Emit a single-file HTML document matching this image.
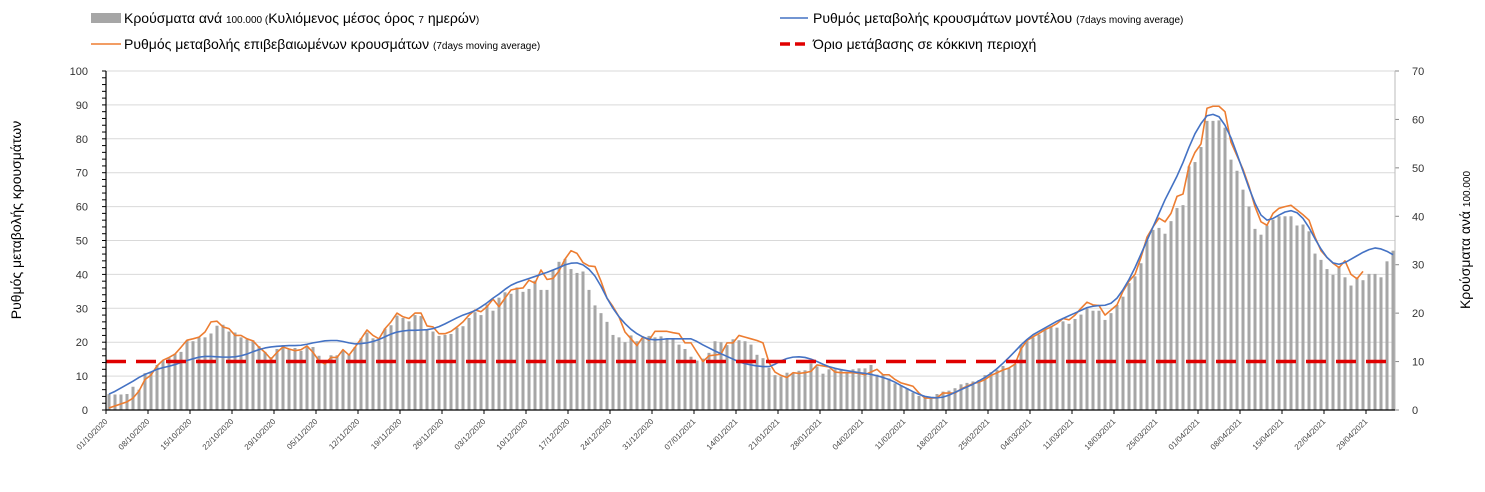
<!DOCTYPE html>
<html><head><meta charset="utf-8">
<style>
body{margin:0;background:#fff;}
svg{display:block;font-family:"Liberation Sans","DejaVu Sans",sans-serif;}
</style></head>
<body>
<svg id="chart" width="1485" height="492" viewBox="0 0 1485 492">
<g id="legend">
  <g>
    <rect x="91" y="13" width="30" height="10" fill="#a6a6a6"/>
    <text x="124" y="23" font-size="14" fill="#000">Κρούσματα ανά <tspan font-size="10">100.000 (</tspan>Κυλιόμενος μέσος όρος <tspan font-size="10">7</tspan> ημερών<tspan font-size="10">)</tspan></text>
  </g>
  <g>
    <line x1="91" y1="44" x2="121" y2="44" stroke="#ed7d31" stroke-width="1.5"/>
    <text x="124" y="49" font-size="14" fill="#000">Ρυθμός μεταβολής επιβεβαιωμένων κρουσμάτων <tspan font-size="10">(7days moving average)</tspan></text>
  </g>
  <g>
    <line x1="780" y1="18" x2="808" y2="18" stroke="#4472c4" stroke-width="1.5"/>
    <text x="813" y="23" font-size="14" fill="#000">Ρυθμός μεταβολής κρουσμάτων μοντέλου <tspan font-size="10">(7days moving average)</tspan></text>
  </g>
  <g>
    <line x1="780" y1="44" x2="808" y2="44" stroke="#e00000" stroke-width="3.5" stroke-dasharray="10,5"/>
    <text x="813" y="49" font-size="14" fill="#000">Όριο μετάβασης σε κόκκινη περιοχή</text>
  </g>
</g>
<text transform="translate(21,220) rotate(-90)" text-anchor="middle" font-size="14">Ρυθμός μεταβολής κρουσμάτων</text>
<text transform="translate(1470,240) rotate(-90)" text-anchor="middle" font-size="14">Κρούσματα ανά <tspan font-size="10">100.000</tspan></text>
<g id="grid"></g>
<g id="bars"></g>
<g id="lines"></g>
<g id="axes"></g>
</svg>
<script>
const bars = [3.3,3.2,3.2,3.3,4.8,4.2,7.6,7.9,9.3,10.2,
10.8,11.6,12,14.4,14.2,15,15,15.8,17.4,17.6,
16.2,16,15,14.6,14.4,13.2,12,10.9,12.6,13.4,
12.5,12.8,12.2,13.2,13,11.2,10,11.3,11.3,12.4,
11.4,13,14.8,16,14.8,14.4,16.8,17.5,19.5,19,
18.3,19.6,19.4,16.6,16.2,15.3,15.5,15.7,17,17.3,
19,20.2,19.6,21.8,20.5,23.2,24.3,24,25.3,24.4,
25,26.7,24.8,24.8,29,30.6,31.2,29.1,28.3,28.6,
24.8,21.6,20,18.2,15.5,15,14,15.4,14.2,15,
15.3,15,15.2,14.8,14.8,13.5,12.6,11,10.2,10.6,
11.8,14.2,14,13.4,14.6,14.4,14.2,13.5,11.4,10.7,
8.7,7.2,6.9,7.7,7.7,8.1,8.2,9.6,9,7.5,
8.4,8.4,8.5,7.6,8.4,8.6,8.6,9.3,7.3,7.3,
6.5,5.5,5.1,4.5,3.6,2.9,2.6,2.7,3.3,3.8,
4,4.5,5.3,5.6,5.9,6.2,7.2,7.8,8.3,9.1,
8.6,9.5,13.4,14.3,15,15.6,16.5,17.3,17,18.3,
17.8,18.8,19.7,21,20.5,20.5,18.6,20,21.7,23.4,
26.2,27.6,30.3,35,37.2,37.6,36.4,39,41.7,42.3,
50.3,51.2,54.3,59.7,59.7,59.8,58.3,51.7,49.4,45.5,
42,37.4,36.2,38.1,39.3,40,40,40,38.1,38.3,
36.9,32.3,31,29.1,27.9,29.7,27.4,25.7,27.4,26.8,
28.1,28.1,27.4,30.7,32.9];
const confirmedRate = [0.6,1.2,1.8,2.4,3.5,5.6,9,10.3,13,14.7,
15.5,16.5,18.5,20.6,21,21.5,23,26,26.2,24.5,
24,22,22,21,20.4,18.5,17,15,17,18.6,
18,17.5,17.8,18.9,17,14.5,13.6,15.5,15.5,17.8,
16.2,18.5,21,23.6,22,21,24,26,28.6,27.5,
27,28.6,28.6,24.8,24.5,22.5,22.5,23.2,24.5,26,
28,29.5,29,30.5,32.7,30.5,33,35.4,35.8,36,
38.3,37.4,41.3,38.5,38.8,41,44.5,47,46.2,43.5,
42.5,42.3,38,33,30.5,27.5,23,21,19,21.6,
20.6,23.2,23.2,23.2,22.8,22.5,19.8,19.8,17,14.3,
16,16.2,16.5,19.8,19.8,22,21.5,21,20.5,19.8,
14,11.2,10.2,9.6,11,10.8,11,11.4,13.3,13,
12.7,11.2,11,11,11,10.8,10.4,11.2,12,10.4,
10.4,9,8,7.5,7,5,3.5,3.5,3.6,5,
5,5,6.2,7,7.8,8.2,9,10.2,11,11.8,
12.4,13.5,18,20.5,21.6,22.6,23.7,24.5,25.5,27,
26.6,28,30,31.8,31,30.8,28,29.5,31,35,
38,40,45,51,54,56.6,55.5,58,63,63.7,
72,76,78.5,89,89.6,89.6,88,79,75,71,
66,60,55.5,54.5,58,59.5,60,60.4,59,57.6,
56,51,47,45,43.3,42,44,40,38.7,40.9];
const modelRate = [4.7,5.5,6.5,7.5,8.5,9.6,10.5,11.2,12,12.5,
12.9,13.4,14,14.6,15.1,15.6,15.8,15.8,15.7,15.6,
15.6,15.7,16,16.5,17.2,17.8,18.3,18.6,18.8,18.9,
19,19,19.1,19.4,19.8,20.1,20.4,20.5,20.5,20.2,
19.8,19.5,19.6,19.8,20.2,20.8,21.6,22.4,23,23.3,
23.5,23.5,23.6,23.7,24,24.6,25.4,26.3,27.2,28,
28.6,29.3,30.4,31.6,33,34.2,35.6,36.8,37.6,38.2,
38.8,39.4,40,40.6,41.3,42,42.8,43.3,43.4,42.8,
41.5,39.5,36.5,33,30,27.5,25.5,23.8,22.5,21.5,
20.9,20.7,20.8,21,21,21,21,21,20.2,19.2,
18.3,17.4,16.6,15.8,15,14.2,13.7,13.3,13,12.8,
12.8,13.5,14.5,15.2,15.6,15.7,15.5,15,14.3,13.5,
12.8,12.3,11.9,11.6,11.3,11,10.8,10.5,10.1,9.6,
9,8.2,7.2,6.3,5.4,4.6,4,3.7,3.6,3.8,
4.4,5.2,6,6.8,7.6,8.6,9.6,10.8,12.2,13.8,
15.5,17.3,19.2,20.8,22.2,23.2,24.2,25.2,26.2,27,
27.8,28.6,29.4,30.2,30.6,30.8,30.9,31.5,33,35.5,
38.5,42,46,50,54,58,62,65.5,69,73,
77.5,81.5,84.5,86.8,87.2,86.5,84,80.3,75.5,70.5,
65.5,61,57.5,56,56.5,57.5,58.4,58.8,58.2,56.5,
53.8,50.5,47.5,45,43.4,43,43.5,44.5,45.5,46.5,
47.3,47.8,47.5,46.8,45.8];
const threshold = 14.3;
const leftTicks = [0,10,20,30,40,50,60,70,80,90,100];
const rightTicks = [0,10,20,30,40,50,60,70];
const tickLabels = ["01/10/2020","08/10/2020","15/10/2020","22/10/2020","29/10/2020","05/11/2020","12/11/2020","19/11/2020","26/11/2020","03/12/2020","10/12/2020","17/12/2020","24/12/2020","31/12/2020","07/01/2021","14/01/2021","21/01/2021","28/01/2021","04/02/2021","11/02/2021","18/02/2021","25/02/2021","04/03/2021","11/03/2021","18/03/2021","25/03/2021","01/04/2021","08/04/2021","15/04/2021","22/04/2021","29/04/2021"];

const NS="http://www.w3.org/2000/svg";
const X0=106, X1=1395, Y0=410, Y1=71, DAY=6;
const xDay = d => X0 + d*DAY;
const yL = v => Y0 - (v/100)*(Y0-Y1);
const yR = v => Y0 - (v/70)*(Y0-Y1);
function mk(tag, attrs, parent){const e=document.createElementNS(NS,tag);for(const k in attrs)e.setAttribute(k,attrs[k]);parent.appendChild(e);return e;}
const grid=document.getElementById('grid'), barsG=document.getElementById('bars'), linesG=document.getElementById('lines'), axes=document.getElementById('axes');

leftTicks.forEach(t=>{
  if(t>0){const g=mk('line',{x1:X0,x2:X1,y1:yL(t),y2:yL(t),stroke:'#d9d9d9','stroke-width':1},grid);
  
  }
  const l=mk('text',{x:88,y:yL(t)+4,'text-anchor':'end','font-size':11,fill:'#333'},axes);
  l.textContent=t;
  
  
});
for(let v=0;v<=100;v+=2){mk('line',{x1:X0-4,x2:X0,y1:yL(v),y2:yL(v),stroke:'#000','stroke-width':1},axes);}
rightTicks.forEach(t=>{
  mk('line',{x1:X1,x2:X1+4,y1:yR(t),y2:yR(t),stroke:'#888'},axes);
  const l=mk('text',{x:1412,y:yR(t)+4,'font-size':11,fill:'#333'},axes);
  l.textContent=t;
  
  
});
bars.forEach((v,i)=>{
  const b=mk('rect',{x:xDay(i)+1.5,y:yR(v),width:3,height:Y0-yR(v),fill:'#a6a6a6'},barsG);
  
  
});
function line(arr,color,name){
  const p=mk('polyline',{points:arr.map((v,i)=>xDay(i)+3+','+yL(v)).join(' '),fill:'none',stroke:color,'stroke-width':1.6,'stroke-linejoin':'round'},linesG);
  
  
}
line(confirmedRate,'#ed7d31','confirmed-rate-line');
line(modelRate,'#4472c4','model-rate-line');
const th=mk('line',{x1:X0,x2:X1,y1:yL(threshold),y2:yL(threshold),stroke:'#e00000','stroke-width':3.5,'stroke-dasharray':'20,10'},linesG);


mk('line',{x1:X0,x2:X0,y1:Y1,y2:Y0,stroke:'#000','stroke-width':1.2},axes);
mk('line',{x1:X1,x2:X1,y1:Y1,y2:Y0,stroke:'#bbb','stroke-width':1},axes);
mk('line',{x1:X0,x2:X1,y1:Y0,y2:Y0,stroke:'#000','stroke-width':1.2},axes);
tickLabels.forEach((s,i)=>{
  const x=xDay(i*7);
  mk('line',{x1:x,x2:x,y1:Y0,y2:Y0+4,stroke:'#000'},axes);
  const t=mk('text',{x:x+2,y:Y0+12,'text-anchor':'end','font-size':8,fill:'#444',transform:'rotate(-45 '+(x+2)+' '+(Y0+12)+')'},axes);
  t.textContent=s;
  
  
});
</script>
</body></html>
